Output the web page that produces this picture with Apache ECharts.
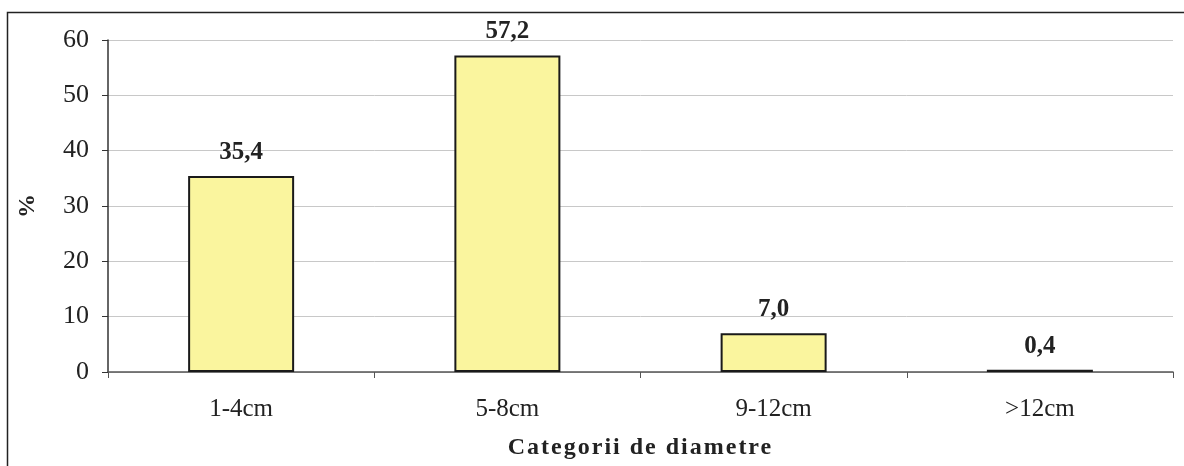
<!DOCTYPE html>
<html>
<head>
<meta charset="utf-8">
<script src="https://cdn.jsdelivr.net/npm/echarts@6/dist/echarts.min.js"></script>
<style>
  html, body { margin: 0; padding: 0; background: #fff; }
  #chart { width: 1184px; height: 466px; }
</style>
</head>
<body>
<div id="chart"></div>
<script>
// Diameter classes and their share (%)
const categories = ['1-4cm', '5-8cm', '9-12cm', '>12cm'];
const shares = [35.4, 57.2, 7.0, 0.4];
const yTicks = [0, 10, 20, 30, 40, 50, 60];
const xTitle = 'Categorii de diametre';

// the x-axis title is set with wide tracking; every other text keeps normal spacing
const TRACKING = '2px';
const proto = CanvasRenderingContext2D.prototype;
const baseFill = proto.fillText;
const baseMeasure = proto.measureText;
proto.fillText = function (t, x, y, w) {
  if (t !== xTitle) return baseFill.apply(this, arguments);
  this.save();
  this.letterSpacing = TRACKING;
  const r = baseFill.apply(this, arguments);
  this.restore();
  return r;
};
proto.measureText = function (t) {
  if (t !== xTitle) return baseMeasure.apply(this, arguments);
  this.save();
  this.letterSpacing = TRACKING;
  const r = baseMeasure.apply(this, arguments);
  this.restore();
  return r;
};

const serif = '"Liberation Serif", "DejaVu Serif", serif';
const chart = echarts.init(document.getElementById('chart'));

chart.setOption({
  animation: false,
  backgroundColor: '#fff',
  graphic: [{
    type: 'rect',
    shape: { x: 7.5, y: 12.5, width: 1200, height: 500 },
    style: { fill: 'none', stroke: '#222', lineWidth: 1.5 },
    silent: true
  }],
  grid: { left: 108, right: 11, top: 40, bottom: 94, outerBoundsMode: 'none', containLabel: false },
  xAxis: {
    type: 'category',
    data: categories,
    boundaryGap: true,
    axisLine: { lineStyle: { color: '#555', width: 1.5 } },
    axisTick: { show: true, alignWithLabel: false, length: 6, lineStyle: { color: '#555' } },
    axisLabel: { fontFamily: serif, fontSize: 25, color: '#222', margin: 25 },
    name: xTitle,
    nameLocation: 'middle',
    nameGap: 64,
    nameTextStyle: { fontFamily: serif, fontSize: 24, fontWeight: 'bold', color: '#222' }
  },
  yAxis: {
    type: 'value',
    min: yTicks[0],
    max: yTicks[yTicks.length - 1],
    interval: 10,
    axisLine: { show: true, lineStyle: { color: '#333', width: 1.5 } },
    axisTick: { show: true, length: 6, lineStyle: { color: '#333' } },
    axisLabel: { fontFamily: serif, fontSize: 26, color: '#222', margin: 19 },
    splitLine: { show: true, lineStyle: { color: '#c8c8c8', width: 1 } },
    name: '%',
    nameLocation: 'middle',
    nameGap: 68,
    nameRotate: 90,
    nameTextStyle: { fontFamily: serif, fontSize: 24, fontWeight: 'bold', color: '#222' }
  },
  series: [{
    type: 'bar',
    data: shares,
    barWidth: 106,
    itemStyle: { color: '#faf59e', borderColor: '#1a1a1a', borderWidth: 2 },
    label: {
      show: true,
      position: 'top',
      distance: 11,
      fontFamily: serif,
      fontSize: 25,
      fontWeight: 'bold',
      color: '#222',
      formatter: p => p.value.toFixed(1).replace('.', ',')
    }
  }]
});
</script>
</body>
</html>
